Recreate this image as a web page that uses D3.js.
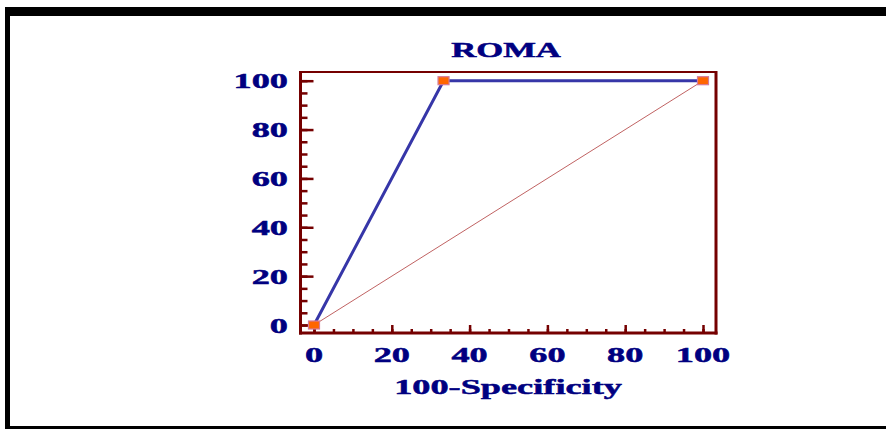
<!DOCTYPE html>
<html lang="en">
<head>
    <meta charset="UTF-8">
    <title>ROMA ROC</title>
    <script src="https://d3js.org/d3.v7.min.js"></script>
    <style>
        body { margin: 0; background: #fff; }
        text { font-family: "Liberation Serif", "Times New Roman", serif; font-weight: bold; fill: #000080; stroke: #000080; stroke-width: 0.5; }
    </style>
</head>
<body>
    <script>

        // ROC curve points (100-Specificity, Sensitivity)
        var fpr = [0, 33.3, 100]
        var tpr = [0, 100, 100]
        var diagX = [0, 100]
        var diagY = [0, 100]
        var tickVals = [0, 20, 40, 60, 80, 100]
        var title = 'ROMA'
        var xTitle = '100-Specificity'

        var w = 886, h = 429;
        var stretch = 1.65;   // text in the picture is stretched sideways
        var axisColor = '#750000';

        var svg = d3.select('body')
                    .append('svg')
                    .attr('width', w)
                    .attr('height', h)

        // outer frame
        svg.append('rect').attr('x', 5).attr('y', 7).attr('width', 886).attr('height', 9).attr('fill', '#000')
        svg.append('rect').attr('x', 5).attr('y', 7).attr('width', 5).attr('height', 422).attr('fill', '#000')
        svg.append('rect').attr('x', 5).attr('y', 426).attr('width', 886).attr('height', 3).attr('fill', '#000')

        //scales
        var xScale = d3.scaleLinear().domain([0, 100]).range([314, 703])
        var yScale = d3.scaleLinear().domain([0, 100]).range([325, 80.7])

        var boxL = 300.5, boxR = 716, boxT = 72, boxB = 333;

        // minor ticks
        var minor = d3.range(0, 101, 5)

        svg.append('g')
            .attr('transform', 'translate(' + boxL + ',0)')
            .call(d3.axisLeft(yScale).tickValues(minor).tickSize(-7).tickFormat(''))
        svg.append('g')
            .attr('transform', 'translate(' + boxL + ',0)')
            .call(d3.axisLeft(yScale).tickValues(tickVals).tickSize(-13).tickFormat(''))

        svg.append('g')
            .attr('transform', 'translate(0,' + boxB + ')')
            .call(d3.axisBottom(xScale).tickValues(minor).tickSize(-4).tickFormat(''))
        svg.append('g')
            .attr('transform', 'translate(0,' + boxB + ')')
            .call(d3.axisBottom(xScale).tickValues(tickVals).tickSize(-8).tickFormat(''))

        svg.selectAll('.domain').remove()
        svg.selectAll('.tick line').attr('stroke', axisColor).attr('stroke-width', 2.5)

        // plot box
        svg.append('line').attr('x1', boxL).attr('x2', boxL).attr('y1', boxT - 1).attr('y2', boxB + 1.5)
            .attr('stroke', axisColor).attr('stroke-width', 3)
        svg.append('line').attr('x1', boxL - 1.5).attr('x2', boxR + 1.5).attr('y1', boxB).attr('y2', boxB)
            .attr('stroke', axisColor).attr('stroke-width', 3)
        svg.append('line').attr('x1', boxL).attr('x2', boxR).attr('y1', boxT).attr('y2', boxT)
            .attr('stroke', axisColor).attr('stroke-width', 2)
        svg.append('line').attr('x1', boxR).attr('x2', boxR).attr('y1', boxT - 1).attr('y2', boxB + 1.5)
            .attr('stroke', axisColor).attr('stroke-width', 3)

        // tick labels
        svg.selectAll('.ylab')
            .data(tickVals)
            .enter()
            .append('text')
            .attr('text-anchor', 'end')
            .attr('font-size', 22)
            .attr('transform', (d)=>'translate(288,' + (yScale(d) + 7.5) + ') scale(' + stretch + ',1)')
            .text((d)=>d)

        svg.selectAll('.xlab')
            .data(tickVals)
            .enter()
            .append('text')
            .attr('text-anchor', 'middle')
            .attr('font-size', 22)
            .attr('transform', (d)=>'translate(' + xScale(d) + ',362) scale(' + stretch + ',1)')
            .text((d)=>d)

        // titles
        svg.append('text')
            .attr('text-anchor', 'middle')
            .attr('font-size', 21)
            .attr('transform', 'translate(506,57) scale(' + stretch + ',1)')
            .text(title)

        svg.append('text')
            .attr('text-anchor', 'middle')
            .attr('font-size', 22)
            .attr('transform', 'translate(508,394) scale(' + stretch + ',1)')
            .text(xTitle)

        // diagonal reference line
        svg.append('path')
            .attr('d', d3.line().x((d, i)=>xScale(diagX[i])).y((d, i)=>yScale(diagY[i]))(diagX))
            .attr('fill', 'none')
            .attr('stroke', '#b03a3a')
            .attr('stroke-width', 0.8)

        // ROC line
        svg.append('path')
            .attr('d', d3.line().x((d, i)=>xScale(fpr[i])).y((d, i)=>yScale(tpr[i]))(fpr))
            .attr('fill', 'none')
            .attr('stroke', '#3636a8')
            .attr('stroke-width', 3)

        // markers
        svg.selectAll('.pt')
            .data(fpr)
            .enter()
            .append('rect')
            .attr('x', (d)=>xScale(d) - 5.5)
            .attr('y', (d, i)=>yScale(tpr[i]) - 4)
            .attr('width', 11)
            .attr('height', 8)
            .attr('fill', '#ff6600')
            .attr('stroke', '#d47a9a')
            .attr('stroke-width', 1.2)

    </script>
</body>
</html>
